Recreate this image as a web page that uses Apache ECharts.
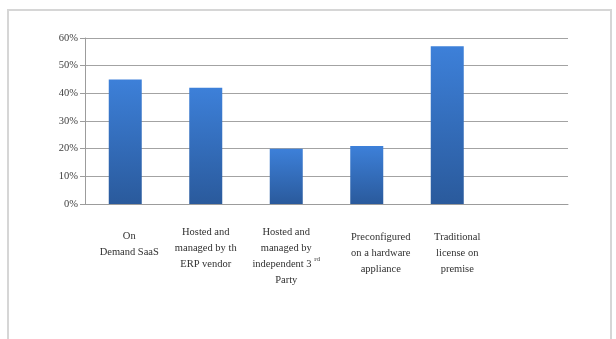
<!DOCTYPE html>
<html>
<head>
<meta charset="utf-8">
<script src="https://cdn.jsdelivr.net/npm/echarts@6/dist/echarts.min.js"></script>
<style>
  html, body { margin: 0; padding: 0; background: #ffffff; }
  #frame { position: absolute; left: 7px; top: 9px; width: 601px; height: 400px; border: 2px solid #d6d6d6; box-sizing: content-box; }
  #chart { position: absolute; left: 0; top: 0; width: 616px; height: 339px; }
</style>
</head>
<body>
<div id="frame"></div>
<div id="chart"></div>
<script>
// ---- data ----
var categories = [
  'On\nDemand SaaS',
  'Hosted and\nmanaged by th\nERP vendor',
  'Hosted and\nmanaged by\nindependent 3rd\nParty',
  'Preconfigured\non a hardware\nappliance',
  'Traditional\nlicense on\npremise',
  ''
];
var values = [45, 42, 20, 21, 57, null];
var yTicks = { min: 0, max: 60, step: 10 };

// per-label nudges (layout only)
var labelPadding = [[4, 0, 0, 8], [0, 0, 0, 0], [0, 0, 0, 0], [5, 0, 0, 28], [5, 0, 0, 20], [0, 0, 0, 0]];

var chart = echarts.init(document.getElementById('chart'), null, { renderer: 'canvas' });

var option = {
  backgroundColor: 'transparent',
  animation: false,
  grid: { left: 85, right: 48, top: 38, bottom: 135 },
  xAxis: {
    type: 'category',
    data: categories.map(function (c, i) {
      return { value: c, textStyle: { padding: labelPadding[i] } };
    }),
    axisLine: { show: true, lineStyle: { color: '#9c9c9c', width: 1 } },
    axisTick: { show: false },
    axisLabel: {
      interval: 0,
      hideOverlap: false,
      margin: 20,
      verticalAlign: 'top',
      align: 'center',
      fontFamily: 'Liberation Serif',
      fontSize: 10.5,
      lineHeight: 16,
      color: '#303030',
      formatter: function (v) {
        return v.replace('3rd', '3 {sup|rd}');
      },
      rich: {
        sup: { fontSize: 7, verticalAlign: 'top', lineHeight: 16, fontFamily: 'Liberation Serif', color: '#303030' }
      }
    },
    splitLine: { show: false }
  },
  yAxis: {
    type: 'value',
    min: yTicks.min,
    max: yTicks.max,
    interval: yTicks.step,
    axisLine: { show: true, lineStyle: { color: '#9c9c9c', width: 1 } },
    axisTick: { show: true, length: 5, lineStyle: { color: '#9c9c9c' } },
    axisLabel: {
      margin: 7,
      fontFamily: 'Liberation Serif',
      fontSize: 10.5,
      color: '#404040',
      formatter: '{value}%'
    },
    splitLine: { show: true, lineStyle: { color: '#a3a3a3', width: 1 } }
  },
  series: [{
    type: 'bar',
    data: values,
    barWidth: 33,
    itemStyle: {
      color: new echarts.graphic.LinearGradient(0, 0, 0, 1, [
        { offset: 0, color: '#3d80d9' },
        { offset: 1, color: '#2a5a9c' }
      ])
    }
  }]
};

chart.setOption(option);
</script>
</body>
</html>
